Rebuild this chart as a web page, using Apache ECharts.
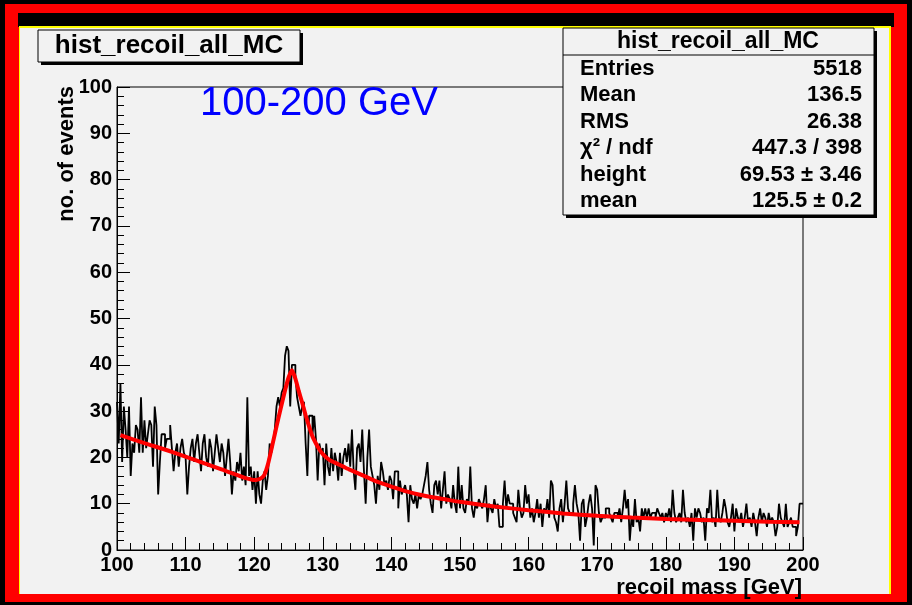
<!DOCTYPE html>
<html>
<head>
<meta charset="utf-8">
<script src="https://cdn.jsdelivr.net/npm/echarts@6/dist/echarts.min.js"></script>
<style>
html,body{margin:0;padding:0;background:#000;}
#chart{width:912px;height:605px;}
</style>
</head>
<body>
<div id="chart"></div>
<script>
// ---- data ----
const binStart = 100;      // GeV
const binWidth = 0.25;     // GeV
const binCounts = [
  32, 23, 36, 19, 31, 26, 20, 31, 16, 23,
  21, 27, 26, 21, 33, 21, 28, 22, 25, 28,
  27, 18, 31, 27, 12, 19, 25, 25, 22, 24,
  24, 27, 22, 17, 21, 23, 18, 22, 24, 21,
  20, 12, 18, 22, 24, 19, 23, 25, 21, 17,
  23, 25, 20, 18, 24, 22, 17, 21, 25, 22,
  19, 23, 21, 16, 20, 24, 19, 12, 17, 15,
  19, 17, 21, 15, 18, 14, 33, 16, 18, 13,
  17, 10, 17, 12, 10, 15, 17, 13, 16, 23,
  21, 23, 26, 31, 33, 31, 34, 35, 42, 44,
  43, 31, 40, 40, 38, 33, 31, 29, 31, 32,
  23, 16, 29, 29, 25, 29, 24, 15, 23, 21,
  22, 14, 23, 18, 16, 22, 17, 21, 19, 15,
  21, 16, 20, 22, 19, 23, 18, 26, 17, 13,
  22, 23, 19, 26, 17, 10, 20, 26, 18, 16,
  14, 10, 16, 13, 19, 17, 14, 15, 13, 16,
  15, 11, 17, 17, 9, 15, 12, 13, 14, 12,
  6, 14, 11, 10, 12, 9, 12, 11, 12, 14,
  16, 19, 13, 10, 8, 14, 15, 12, 15, 9,
  13, 17, 10, 12, 11, 9, 14, 10, 8, 18,
  9, 14, 9, 8, 11, 10, 18, 9, 7, 10,
  9, 11, 10, 9, 11, 14, 6, 10, 9, 8,
  11, 9, 10, 5, 5, 10, 15, 9, 12, 10,
  10, 8, 7, 6, 13, 9, 7, 8, 14, 10,
  12, 7, 9, 6, 8, 11, 7, 10, 5, 9,
  8, 11, 7, 15, 14, 7, 6, 4, 9, 11,
  6, 10, 15, 9, 8, 8, 10, 14, 10, 8,
  2, 10, 11, 5, 7, 10, 12, 9, 1, 14,
  13, 8, 6, 7, 7, 9, 9, 8, 7, 6,
  8, 8, 7, 9, 6, 9, 13, 9, 11, 2,
  7, 5, 11, 6, 7, 4, 9, 7, 9, 7,
  9, 7, 8, 8, 7, 9, 8, 7, 8, 6,
  8, 7, 9, 6, 13, 8, 6, 7, 8, 6,
  13, 8, 6, 7, 5, 8, 2, 9, 7, 9,
  8, 6, 7, 2, 9, 8, 13, 6, 7, 5,
  13, 7, 6, 8, 11, 9, 6, 5, 7, 10,
  4, 9, 7, 6, 8, 5, 7, 10, 6, 7,
  5, 8, 6, 3, 7, 9, 6, 8, 7, 5,
  8, 6, 7, 6, 3, 5, 10, 7, 6, 5,
  10, 5, 6, 7, 5, 5, 3, 5, 10, 10
];
const fitX = [100.5, 104, 108, 112, 116, 120, 120.5, 121, 121.5, 122, 122.5, 123, 123.5, 124, 124.5, 125, 125.5,
  126, 126.5, 127, 127.5, 128, 128.5, 129, 129.5, 130, 131, 132, 133, 134, 136, 138, 140, 142, 144, 146, 148,
  150, 155, 160, 165, 170, 175, 180, 185, 190, 195, 199.5];
const fitY = [24.8, 23.1, 21.2, 19.1, 17.0, 15.1, 15.2, 15.5, 16.3, 18.5, 21.7, 25.0, 28.3, 31.4, 34.5, 37.2, 38.8,
  37.0, 34.3, 31.8, 29.1, 26.7, 24.5, 23.0, 21.7, 20.7, 19.4, 18.7, 18.0, 17.3, 16.0, 14.7, 13.7, 12.7, 12.0, 11.4, 10.9,
  10.4, 9.4, 8.6, 7.9, 7.4, 7.0, 6.7, 6.5, 6.3, 6.1, 6.0];
const xTickLabels = ['100', '110', '120', '130', '140', '150', '160', '170', '180', '190', '200'];
const yTickLabels = ['0', '10', '20', '30', '40', '50', '60', '70', '80', '90', '100'];
const statsLabels = ['Entries', 'Mean', 'RMS', 'χ² / ndf', 'height', 'mean'];
const statsValues = ['5518', '136.5', '26.38', '447.3 / 398', '69.53 ± 3.46', '125.5 ± 0.2'];
const histTitle = 'hist_recoil_all_MC';
const rangeText = '100-200 GeV';
const xTitle = 'recoil mass [GeV]';
const yTitle = 'no. of events';

// ---- build series data ----
const histData = binCounts.map((v, i) => [binStart + i * binWidth, v]);
histData.push([binStart + binCounts.length * binWidth, binCounts[binCounts.length - 1]]);
const fitData = fitX.map((x, i) => [x, fitY[i]]);

const FONT = '"Liberation Sans", Arial, Helvetica, sans-serif';
const chart = echarts.init(document.getElementById('chart'), null, {renderer: 'canvas'});

const statsGraphics = [];
statsLabels.forEach((lab, i) => {
  const y = 69 + i * 26.4;
  statsGraphics.push({type: 'text', z: 102, style: {text: lab, x: 580, y: y, font: 'bold 22px ' + FONT, fill: '#000',
    textAlign: 'left', textVerticalAlign: 'middle', align: 'left', verticalAlign: 'middle'}});
  statsGraphics.push({type: 'text', z: 102, style: {text: statsValues[i], x: 862, y: y, font: 'bold 22px ' + FONT, fill: '#000',
    textAlign: 'right', textVerticalAlign: 'middle', align: 'right', verticalAlign: 'middle'}});
});

const option = {
  animation: false,
  backgroundColor: '#000',
  grid: {left: 117, top: 87, width: 686, height: 463, show: true, backgroundColor: '#f2f2f2', borderColor: '#000', borderWidth: 1},
  xAxis: {
    type: 'value', min: 100, max: 200, interval: 10,
    axisLine: {show: true, onZero: false, lineStyle: {color: '#000', width: 1}},
    axisTick: {show: true, inside: true, length: 13, lineStyle: {color: '#000', width: 1}},
    minorTick: {show: true, splitNumber: 5, length: 7, lineStyle: {color: '#000', width: 1}},
    splitLine: {show: false},
    axisLabel: {color: '#000', fontFamily: FONT, fontWeight: 'bold', fontSize: 20, margin: 5,
      formatter: v => xTickLabels[Math.round((v - 100) / 10)]}
  },
  yAxis: {
    type: 'value', min: 0, max: 100, interval: 10,
    axisLine: {show: true, lineStyle: {color: '#000', width: 1}},
    axisTick: {show: true, inside: true, length: 13, lineStyle: {color: '#000', width: 1}},
    minorTick: {show: true, splitNumber: 5, length: 7, lineStyle: {color: '#000', width: 1}},
    splitLine: {show: false},
    axisLabel: {color: '#000', fontFamily: FONT, fontWeight: 'bold', fontSize: 20, margin: 5,
      formatter: v => yTickLabels[Math.round(v / 10)]}
  },
  series: [
    {type: 'line', data: histData, step: 'end', showSymbol: false, symbol: 'none',
      lineStyle: {color: '#000', width: 1.8}, z: 3},
    {type: 'line', data: fitData, showSymbol: false, symbol: 'none', smooth: 0.2,
      lineStyle: {color: '#ff0000', width: 4}, z: 4}
  ],
  graphic: [
    {type: 'rect', z: -20, shape: {x: 5, y: 4, width: 902, height: 598}, style: {fill: '#ff0000'}},
    {type: 'rect', z: -19, shape: {x: 18, y: 13, width: 876, height: 14}, style: {fill: '#000'}},
    {type: 'rect', z: -18, shape: {x: 19, y: 26, width: 872, height: 568}, style: {fill: '#ffff00'}},
    {type: 'rect', z: -17, shape: {x: 20, y: 28, width: 869, height: 566}, style: {fill: '#f2f2f2'}},
    // title box
    {type: 'rect', z: 100, shape: {x: 41, y: 33, width: 262, height: 32}, style: {fill: '#000'}},
    {type: 'rect', z: 101, shape: {x: 38, y: 30, width: 262, height: 32}, style: {fill: '#f2f2f2', stroke: '#000', lineWidth: 1}},
    {type: 'text', z: 102, style: {text: histTitle, x: 169, y: 46, font: 'bold 26px ' + FONT, fill: '#000',
      textAlign: 'center', textVerticalAlign: 'middle', align: 'center', verticalAlign: 'middle'}},
    // stats box
    {type: 'rect', z: 100, shape: {x: 566, y: 31, width: 311, height: 187}, style: {fill: '#000'}},
    {type: 'rect', z: 101, shape: {x: 563, y: 28, width: 311, height: 187}, style: {fill: '#f2f2f2', stroke: '#000', lineWidth: 1}},
    {type: 'line', z: 102, shape: {x1: 563, y1: 55, x2: 874, y2: 55}, style: {stroke: '#000', lineWidth: 1}},
    {type: 'text', z: 102, style: {text: histTitle, x: 718, y: 42, font: 'bold 23px ' + FONT, fill: '#000',
      textAlign: 'center', textVerticalAlign: 'middle', align: 'center', verticalAlign: 'middle'}},
    ...statsGraphics,
    // range text
    {type: 'text', z: 50, style: {text: rangeText, x: 200, y: 104, font: '40px ' + FONT, fill: '#0000ff',
      textAlign: 'left', textVerticalAlign: 'middle', align: 'left', verticalAlign: 'middle'}},
    // axis titles
    {type: 'text', z: 50, style: {text: xTitle, x: 802, y: 588, font: 'bold 22px ' + FONT, fill: '#000',
      textAlign: 'right', textVerticalAlign: 'middle', align: 'right', verticalAlign: 'middle'}},
    {type: 'text', z: 50, x: 67, y: 86, rotation: Math.PI / 2, style: {text: yTitle, x: 0, y: 0, font: 'bold 22px ' + FONT, fill: '#000',
      textAlign: 'right', textVerticalAlign: 'middle', align: 'right', verticalAlign: 'middle'}}
  ]
};
chart.setOption(option);
</script>
</body>
</html>
